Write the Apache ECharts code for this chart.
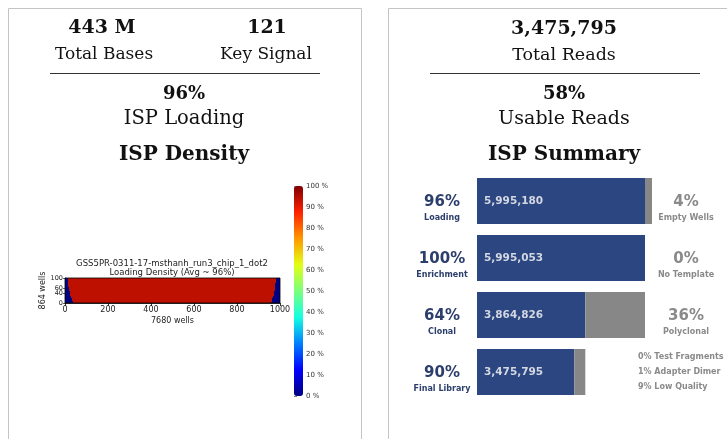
<!DOCTYPE html>
<html>
<head>
<meta charset="utf-8">
<title>ISP Report</title>
<script src="https://cdn.jsdelivr.net/npm/echarts@6/dist/echarts.min.js"></script>
<style>
  html, body { margin: 0; padding: 0; background: #fff; }
  #chart { width: 727px; height: 439px; }
</style>
</head>
<body>
<div id="chart"></div>
<script>
// ---- run summary ----
const totalBases = '443 M';
const keySignal = '121';
const ispLoading = '96%';

// ---- ISP summary funnel (reads per stage) ----
const stageNames = ['Loading', 'Enrichment', 'Clonal', 'Final Library'];
const stagePct = ['96%', '100%', '64%', '90%'];
const keptReads = [5995180, 5995053, 3864826, 3475795];
const droppedReads = [249820, 127, 2130227, 389031];
const droppedPct = ['4%', '0%', '36%', ''];
const droppedNames = ['Empty Wells', 'No Template', 'Polyclonal', ''];
const filterBreakdown = ['0% Test Fragments', '1% Adapter Dimer', '9% Low Quality'];

// ---- chip loading density map ----
const chipTitle = 'GSS5PR-0311-17-msthanh_run3_chip_1_dot2';
const densityTitle = 'Loading Density (Avg ~ 96%)';
const rowStep = 5;             // chip rows per band (y runs 0..100)
const interiorLoading = 94;    // loading % in the populated area
// unloaded wells at each chip edge, per band from bottom to top (x units)
const leftEdgeEmpty = [38, 35, 33, 31, 29, 27, 25, 24, 22, 21, 20, 18, 17, 16, 15, 14, 13, 13, 12, 12];
const rightEdgeEmpty = [42, 39, 37, 35, 33, 31, 30, 28, 27, 26, 25, 24, 23, 22, 21, 21, 20, 20, 19, 19];

// matplotlib "jet" colormap sampled at 9 even stops
const jet = ['#000080', '#0000ff', '#0080ff', '#14ffe2', '#7bff7b', '#e2ff14', '#ff9700', '#ff2100', '#800000'];

const serif = 'DejaVu Serif';
const sans = 'DejaVu Sans';
const navy = '#2b4680';
const navyText = '#2c3e6b';
const greyBar = '#878787';
const greyText = '#8a8a8a';

// density segments: [x0, x1, y0, y1, loading]
const densitySegments = [];
leftEdgeEmpty.forEach((left, r) => {
  const y0 = r * rowStep, y1 = y0 + rowStep;
  const right = 1000 - rightEdgeEmpty[r];
  densitySegments.push([0, left, y0, y1, 0]);
  densitySegments.push([left, right, y0, y1, interiorLoading]);
  densitySegments.push([right, 1000, y0, y1, 0]);
});

const fmt = v => v.toLocaleString('en-US');
const funnelMax = keptReads[0] + droppedReads[0];
const usablePct = Math.round(keptReads[3] / keptReads[0] * 100) + '%';

const chart = echarts.init(document.getElementById('chart'), null, { renderer: 'canvas' });

chart.setOption({
  backgroundColor: '#fff',
  animation: false,
  grid: [
    // density map
    { left: 65, top: 278, width: 215, height: 25 },
    // colorbar ticks
    { left: 294, top: 186, width: 9, height: 210 },
    // funnel bars
    { left: 477, top: 172.5, width: 175, height: 228 }
  ],
  xAxis: [
    {
      type: 'value', gridIndex: 0, min: 0, max: 1000, interval: 200, position: 'bottom',
      axisLine: { show: true, onZero: false, lineStyle: { color: '#000', width: 0.8 } },
      axisTick: { show: true, length: 3, lineStyle: { color: '#000', width: 0.8 } },
      splitLine: { show: false },
      axisLabel: { fontSize: 8, color: '#222', fontFamily: sans, margin: 3, formatter: v => String(v) },
      name: '7680 wells', nameLocation: 'middle', nameGap: 14,
      nameTextStyle: { fontSize: 8, color: '#222', fontFamily: sans }
    },
    { type: 'value', gridIndex: 1, show: false, min: 0, max: 1 },
    { type: 'value', gridIndex: 2, show: false, min: 0, max: funnelMax }
  ],
  yAxis: [
    {
      type: 'value', gridIndex: 0, min: 0, max: 100, interval: 20, position: 'left',
      axisLine: { show: true, onZero: false, lineStyle: { color: '#000', width: 0.8 } },
      axisTick: { show: true, length: 2, lineStyle: { color: '#000', width: 0.6 } },
      splitLine: { show: false },
      axisLabel: {
        fontSize: 6.5, color: '#222', fontFamily: sans, margin: 2,
        hideOverlap: false, showMinLabel: true, showMaxLabel: true
      },
      name: '864 wells', nameLocation: 'middle', nameGap: 17, nameRotate: 90,
      nameTextStyle: { fontSize: 8, color: '#222', fontFamily: sans }
    },
    {
      type: 'value', gridIndex: 1, min: 0, max: 100, interval: 10, position: 'right',
      axisLine: { show: false },
      axisTick: { show: true, length: 3, lineStyle: { color: '#333', width: 0.6 } },
      splitLine: { show: false },
      axisLabel: { fontSize: 7, color: '#333', fontFamily: sans, margin: 3, formatter: '{value} %' }
    },
    { type: 'category', gridIndex: 2, data: stageNames, inverse: true, show: false }
  ],
  visualMap: {
    type: 'continuous',
    seriesIndex: 0,
    dimension: 4,
    min: 0, max: 100,
    inRange: { color: jet },
    show: true,
    calculable: false,
    hoverLink: false,
    left: 294, top: 186,
    itemWidth: 9, itemHeight: 210,
    padding: 0,
    text: null,
    showLabel: false
  },
  series: [
    {
      type: 'custom', xAxisIndex: 0, yAxisIndex: 0,
      data: densitySegments,
      encode: { x: [0, 1], y: [2, 3] },
      clip: true,
      renderItem: (params, api) => {
        // snap to whole pixels so neighbouring bands share edges
        const a = api.coord([api.value(0), api.value(3)]).map(Math.round);
        const b = api.coord([api.value(1), api.value(2)]).map(Math.round);
        return {
          type: 'rect',
          shape: { x: a[0], y: a[1], width: b[0] - a[0], height: b[1] - a[1] },
          style: { fill: api.visual('color'), stroke: null }
        };
      }
    },
    {
      type: 'bar', xAxisIndex: 2, yAxisIndex: 2, stack: 'reads',
      data: keptReads, barWidth: 46,
      itemStyle: { color: navy },
      label: {
        show: true, position: 'insideLeft', distance: 7,
        formatter: p => fmt(p.value),
        color: '#d3d7e2', fontSize: 10.5, fontWeight: 'bold', fontFamily: sans
      }
    },
    {
      type: 'bar', xAxisIndex: 2, yAxisIndex: 2, stack: 'reads',
      data: droppedReads, barWidth: 46,
      itemStyle: { color: greyBar }
    }
  ]
});

// text blocks and panel frames
function txt(x, y, text, size, opts) {
  opts = opts || {};
  return {
    type: 'text', x: x, y: y, silent: true,
    style: {
      text: text,
      fontSize: size,
      fontFamily: opts.family || serif,
      fontWeight: opts.bold ? 'bold' : 'normal',
      fill: opts.color || '#111',
      align: opts.align || 'center',
      verticalAlign: 'middle'
    }
  };
}

const g = [
  { type: 'rect', shape: { x: 8.5, y: 8.5, width: 353, height: 445 }, style: { fill: 'none', stroke: '#c4c4c4', lineWidth: 1 }, silent: true },
  { type: 'rect', shape: { x: 388.5, y: 8.5, width: 360, height: 445 }, style: { fill: 'none', stroke: '#c4c4c4', lineWidth: 1 }, silent: true },
  // frame around the density map
  { type: 'rect', shape: { x: 65, y: 278, width: 215, height: 25 }, style: { fill: 'none', stroke: '#000', lineWidth: 0.8 }, silent: true, z: 100 },

  txt(102, 28, totalBases, 19, { bold: true }),
  txt(267, 28, keySignal, 19, { bold: true }),
  txt(104, 55, 'Total Bases', 17),
  txt(266, 55, 'Key Signal', 17),
  { type: 'line', shape: { x1: 50, y1: 73.5, x2: 320, y2: 73.5 }, style: { stroke: '#333', lineWidth: 1 }, silent: true },
  txt(184, 94, ispLoading, 18, { bold: true }),
  txt(184, 119, 'ISP Loading', 19.5),
  txt(184, 155, 'ISP Density', 20, { bold: true }),

  txt(172, 264, chipTitle, 8.5, { family: sans, color: '#222' }),
  txt(172, 273, densityTitle, 8.5, { family: sans, color: '#222' }),

  txt(564, 29, fmt(keptReads[3]), 19, { bold: true }),
  txt(564, 55, 'Total Reads', 17.5),
  { type: 'line', shape: { x1: 430, y1: 73.5, x2: 700, y2: 73.5 }, style: { stroke: '#333', lineWidth: 1 }, silent: true },
  txt(564, 94, usablePct, 18, { bold: true }),
  txt(564, 119, 'Usable Reads', 19),
  txt(564, 155, 'ISP Summary', 20, { bold: true })
];

// stage labels placed on each bar's row
stageNames.forEach((name, i) => {
  const y = chart.convertToPixel({ yAxisIndex: 2 }, name);
  g.push(txt(442, y + 1, stagePct[i], 15, { family: sans, bold: true, color: navyText }));
  g.push(txt(442, y + 17, name, 8, { family: sans, bold: true, color: navyText }));
  if (droppedNames[i]) {
    g.push(txt(686, y + 1, droppedPct[i], 15, { family: sans, bold: true, color: greyText }));
    g.push(txt(686, y + 17, droppedNames[i], 8, { family: sans, bold: true, color: greyText }));
  } else {
    filterBreakdown.forEach((line, k) => {
      g.push(txt(638, y - 15 + k * 15, line, 8, { family: sans, bold: true, color: greyText, align: 'left' }));
    });
  }
});

chart.setOption({ graphic: g });
</script>
</body>
</html>
